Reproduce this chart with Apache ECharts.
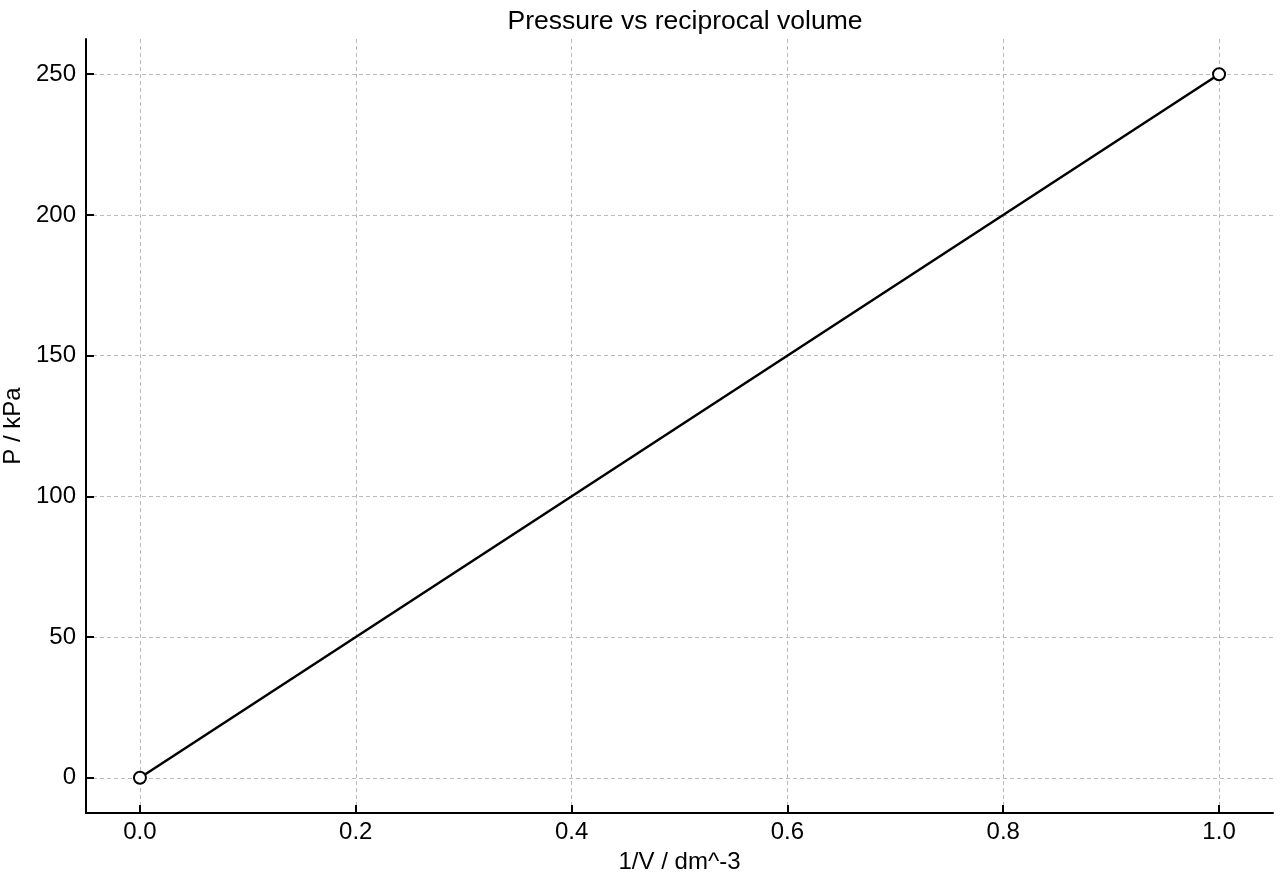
<!DOCTYPE html>
<html><head><meta charset="utf-8">
<script src="https://cdn.jsdelivr.net/npm/echarts@6/dist/echarts.min.js"></script>
<style>html,body{margin:0;padding:0;background:#fff}#c{width:1280px;height:880px}</style>
</head><body><div id="c"></div>
<script>
const xValues = [0.0, 1.0];
const pressure = [0, 250];
const xTicks = [0, 0.2, 0.4, 0.6, 0.8, 1.0];
const yTicks = [0, 50, 100, 150, 200, 250];

const font = '"Liberation Sans", Arial, Helvetica, sans-serif';
const chart = echarts.init(document.getElementById('c'));
chart.setOption({
  animation: false,
  backgroundColor: '#fff',
  textStyle: { fontFamily: font },
  title: { text: 'Pressure vs reciprocal volume', left: 680, textAlign: 'center', top: 3,
    textStyle: { fontFamily: font, fontSize: 26.5, fontWeight: 'normal', color: '#000' } },
  grid: { left: 86, right: 7, top: 39, bottom: 67, outerBoundsMode: 'none', containLabel: false },
  xAxis: {
    type: 'value', min: -0.05, max: 1.05, z: 10,
    name: '1/V / dm^-3', nameLocation: 'middle', nameGap: 37,
    nameTextStyle: { fontFamily: font, fontSize: 24, color: '#000' },
    axisLine: { show: true, onZero: false, lineStyle: { color: '#000', width: 2 } },
    axisTick: { show: true, inside: true, length: 8, lineStyle: { color: '#000', width: 2 },
      customValues: xTicks },
    axisLabel: { fontFamily: font, fontSize: 24, color: '#000', margin: 7,
      customValues: xTicks, formatter: v => v.toFixed(1) },
    splitLine: { show: false }
  },
  yAxis: {
    type: 'value', min: -12.5, max: 262.5, z: 10,
    name: 'P / kPa', nameLocation: 'middle', nameGap: 58, nameRotate: 90,
    nameTextStyle: { fontFamily: font, fontSize: 24, color: '#000' },
    axisLine: { show: true, onZero: false, lineStyle: { color: '#000', width: 2 } },
    axisTick: { show: true, inside: true, length: 8, lineStyle: { color: '#000', width: 2 },
      customValues: yTicks },
    axisLabel: { fontFamily: font, fontSize: 24, color: '#000', margin: 10,
      customValues: yTicks },
    splitLine: { show: false }
  },
  series: [{
    type: 'line',
    data: [],
    z: 1,
    markLine: {
      silent: true, symbol: 'none', label: { show: false }, z: 1,
      lineStyle: { color: '#bbb', type: [4, 3], width: 1 },
      data: yTicks.map(v => ({ yAxis: v })).concat(xTicks.map(v => ({ xAxis: v })))
    }
  }, {
    type: 'line',
    data: xValues.map((x, i) => [x, pressure[i]]),
    lineStyle: { color: '#000', width: 2.5 },
    symbol: 'circle', symbolSize: 12,
    itemStyle: { color: '#fff', borderColor: '#000', borderWidth: 2 },
    z: 4
  }]
});
</script></body></html>
